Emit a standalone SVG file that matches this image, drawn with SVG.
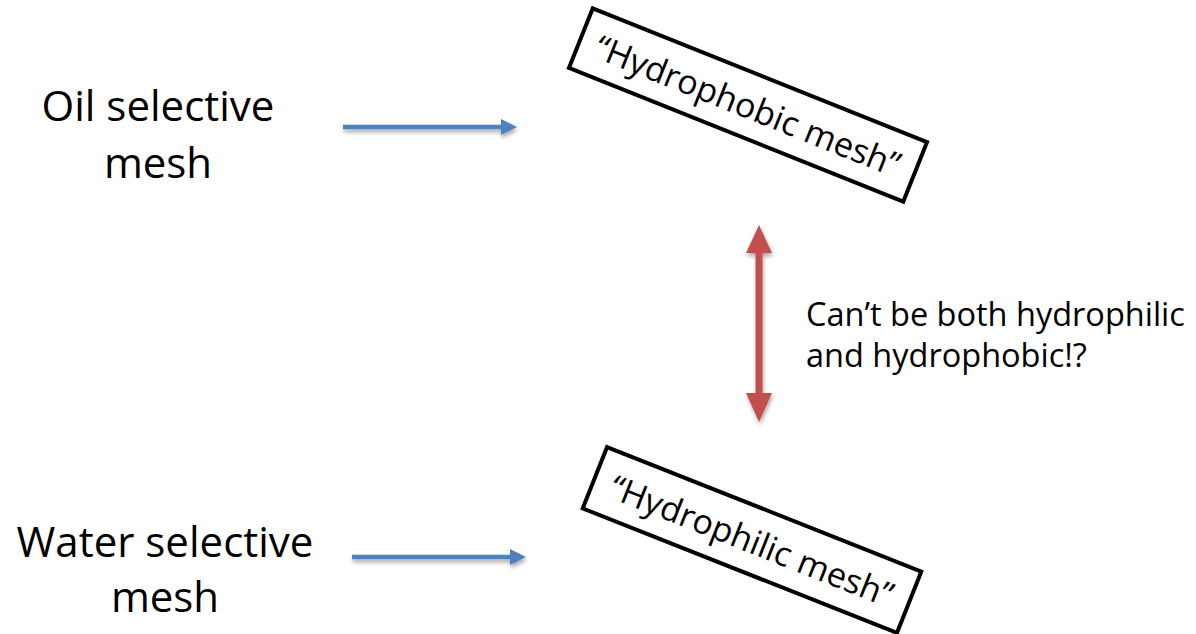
<svg xmlns="http://www.w3.org/2000/svg" width="1196" height="634" viewBox="0 0 1196 634">
<style>
.lbl{font-family:"Open Sans","Liberation Sans",sans-serif;fill:#000;}
.big{font-size:42px;}
.box{fill:#fff;stroke:#000;stroke-width:4;}
.mesh{font-size:34px;}
.note{font-size:32.5px;}
</style>
<defs>
<filter id="sh" x="-20%" y="-50%" width="140%" height="200%">
<feGaussianBlur in="SourceAlpha" stdDeviation="2"/>
<feOffset dx="1" dy="3" result="b"/>
<feComponentTransfer><feFuncA type="linear" slope="0.35"/></feComponentTransfer>
<feMerge><feMergeNode/><feMergeNode in="SourceGraphic"/></feMerge>
</filter>
</defs>
<g id="oil-label">
<text class="lbl big" x="158" y="121" text-anchor="middle">Oil selective</text>
<text class="lbl big" x="158" y="178" text-anchor="middle">mesh</text>
</g>
<g id="water-label">
<text class="lbl big" x="165" y="557" text-anchor="middle">Water selective</text>
<text class="lbl big" x="165" y="612" text-anchor="middle">mesh</text>
</g>
<g id="hydrophobic" transform="translate(748,105) rotate(21.8)">
<rect class="box" x="-180" y="-32" width="360" height="64"/>
<text class="lbl mesh" x="0" y="13" text-anchor="middle">“Hydrophobic mesh”</text>
</g>
<g id="hydrophilic" transform="translate(752,540) rotate(21.6)">
<rect class="box" x="-169" y="-33" width="338" height="66"/>
<text class="lbl mesh" x="0" y="13" text-anchor="middle">“Hydrophilic mesh”</text>
</g>
<g id="note">
<text class="lbl note" x="806" y="326">Can’t be both hydrophilic</text>
<text class="lbl note" x="806" y="367">and hydrophobic!?</text>
</g>
<g id="connectors" filter="url(#sh)">
<path d="M343 127 H503" stroke="#4F81BD" stroke-width="4.5" fill="none"/>
<path d="M501 119 L517 127 L501 135 Z" fill="#4F81BD"/>
<path d="M352 557 H512" stroke="#4F81BD" stroke-width="4.5" fill="none"/>
<path d="M510 549 L526 557 L510 565 Z" fill="#4F81BD"/>
<path d="M759 250 V396" stroke="#C0504D" stroke-width="7" fill="none"/>
<path d="M759 225 L772 253 L746 253 Z" fill="#C0504D"/>
<path d="M759 422 L772 393 L746 393 Z" fill="#C0504D"/>
</g>
</svg>
